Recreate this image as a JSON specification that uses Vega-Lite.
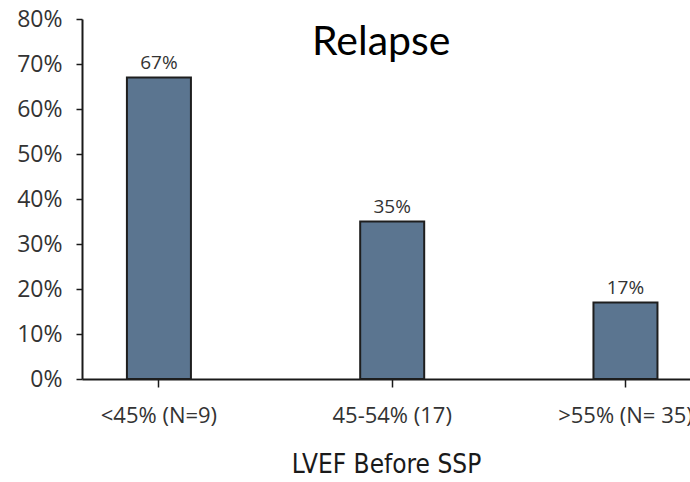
{
  "$schema": "https://vega.github.io/schema/vega-lite/v6.json",
  "width": 608,
  "height": 360,
  "autosize": {"type": "none"},
  "padding": {"left": 82, "top": 19, "right": 0, "bottom": 103},
  "background": "white",
  "encoding": {
    "x": {
      "field": "group",
      "type": "nominal",
      "sort": null,
      "scale": {"domain": ["<45% (N=9)", "45-54% (17)", ">55% (N= 35)"], "paddingInner": 0.7256, "paddingOuter": 0.166, "align": 0.58},
      "axis": {
        "title": "LVEF Before SSP",
        "titleFont": "'DejaVu Sans Condensed', Roboto, sans-serif",
        "titleFontSize": 26,
        "titleFontWeight": "normal",
        "titleColor": "#1a1a1a",
        "titlePadding": 25,
        "labelFont": "Open Sans",
        "labelFontSize": 22,
        "labelColor": "#333333",
        "labelAngle": 0,
        "labelPadding": 18,
        "labelOverlap": false,
        "labelBound": false,
        "tickSize": 8,
        "tickColor": "#1a1a1a",
        "tickWidth": 1.5,
        "domainColor": "#1a1a1a",
        "domainWidth": 2,
        "grid": false
      }
    },
    "y": {
      "field": "relapse",
      "type": "quantitative",
      "scale": {"domain": [0, 80], "nice": false},
      "axis": {
        "title": null,
        "values": [0, 10, 20, 30, 40, 50, 60, 70, 80],
        "labelExpr": "datum.value + '%'",
        "labelFont": "Open Sans",
        "labelFontSize": 23,
        "labelColor": "#333333",
        "labelPadding": 14,
        "tickSize": 6,
        "tickColor": "#1a1a1a",
        "tickWidth": 1.5,
        "domainColor": "#1a1a1a",
        "domainWidth": 2,
        "grid": false
      }
    }
  },
  "layer": [
    {
      "data": {
        "values": [
          {"group": "<45% (N=9)", "relapse": 67, "label": "67%"},
          {"group": "45-54% (17)", "relapse": 35, "label": "35%"},
          {"group": ">55% (N= 35)", "relapse": 17, "label": "17%"}
        ]
      },
      "layer": [
        {
          "mark": {"type": "bar", "fill": "#5b7590", "stroke": "#1e1e1e", "strokeWidth": 2}
        },
        {
          "mark": {"type": "text", "font": "Open Sans", "fontSize": 19, "color": "#333333", "baseline": "alphabetic", "dy": -9},
          "encoding": {"text": {"field": "label"}}
        }
      ]
    },
    {
      "data": {"values": [{"title": "Relapse", "group": "45-54% (17)", "relapse": 72}]},
      "mark": {"type": "text", "font": "Lato", "fontSize": 41, "color": "#000000", "baseline": "alphabetic", "align": "center", "dx": -11},
      "encoding": {"text": {"field": "title"}}
    }
  ],
  "config": {"view": {"stroke": null}}
}
